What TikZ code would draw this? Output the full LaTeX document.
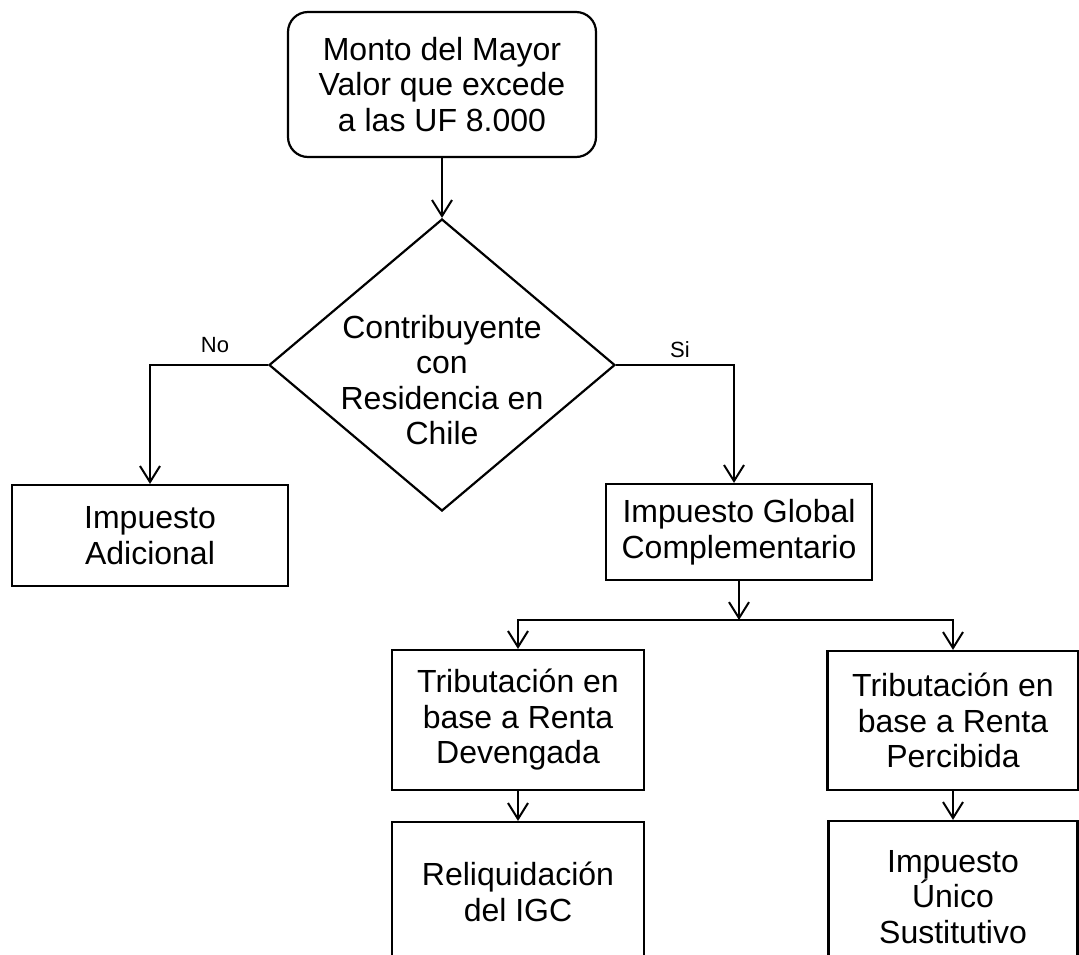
\documentclass[tikz,border=0pt]{standalone}
\usepackage{fontspec}
\setmainfont{Liberation Sans}
\usetikzlibrary{arrows.meta,shapes.geometric}
\begin{document}
\begin{tikzpicture}[x=1pt,y=-1pt,
  line width=2.2pt,
  txt/.style={align=center, inner sep=0pt, font=\fontsize{32}{35.5}\selectfont},
  box/.style={txt, draw, rectangle},
  lbl/.style={inner sep=0pt, font=\fontsize{22}{24}\selectfont},
  arr/.style={-{Straight Barb[length=16pt,width=20pt,line width=2pt]}}
]
\useasboundingbox (0,0) rectangle (1079,954);
\clip (0,0) rectangle (1079,954);

% start box
\node[box, rounded corners=20pt, minimum width=308pt, minimum height=145pt] (start) at (442,84.5)
  {Monto del Mayor\\Valor que excede\\a las UF 8.000};

% decision
\node[draw, diamond, minimum width=346pt, minimum height=292pt, inner sep=0pt] (dec) at (442,365) {};
\node[txt] (dectxt) at (442,380) {Contribuyente\\con\\Residencia en\\Chile};

% outcomes
\node[box, minimum width=276pt, minimum height=101pt] (adic) at (150,535.5) {Impuesto\\Adicional};
\node[box, minimum width=266pt, minimum height=96pt] (igc) at (739,532) {Impuesto Global\\Complementario};
\node[box, minimum width=252pt, minimum height=140pt] (dev) at (518,720) {Tributación en\\base a Renta\\Devengada};
\node[box, minimum width=251pt, minimum height=139pt] (per) at (953,720.5) {Tributación en\\base a Renta\\Percibida};
\node[box, minimum width=252pt, minimum height=140pt] (reliq) at (518,892) {Reliquidación\\del IGC};
\node[box, minimum width=249pt, minimum height=152pt] (unico) at (953,897) {Impuesto\\Único\\Sustitutivo};

% connectors
\draw[arr] (start.south) -- (dec.north);
\draw[arr] (dec.west) -| (adic.north);
\node[lbl] (no) at (215,345) {No};
\draw[arr] (dec.east) -| ([xshift=-5pt]igc.north);
\node[lbl] (si) at (680,350) {Si};
\coordinate (split) at (739,620);
\draw[arr] (igc.south) -- (split);
\draw[arr] (split) -| (dev.north);
\draw[arr] (split) -| (per.north);
\draw[arr] (dev.south) -- (reliq.north);
\draw[arr] (per.south) -- (unico.north);
\end{tikzpicture}
\end{document}
